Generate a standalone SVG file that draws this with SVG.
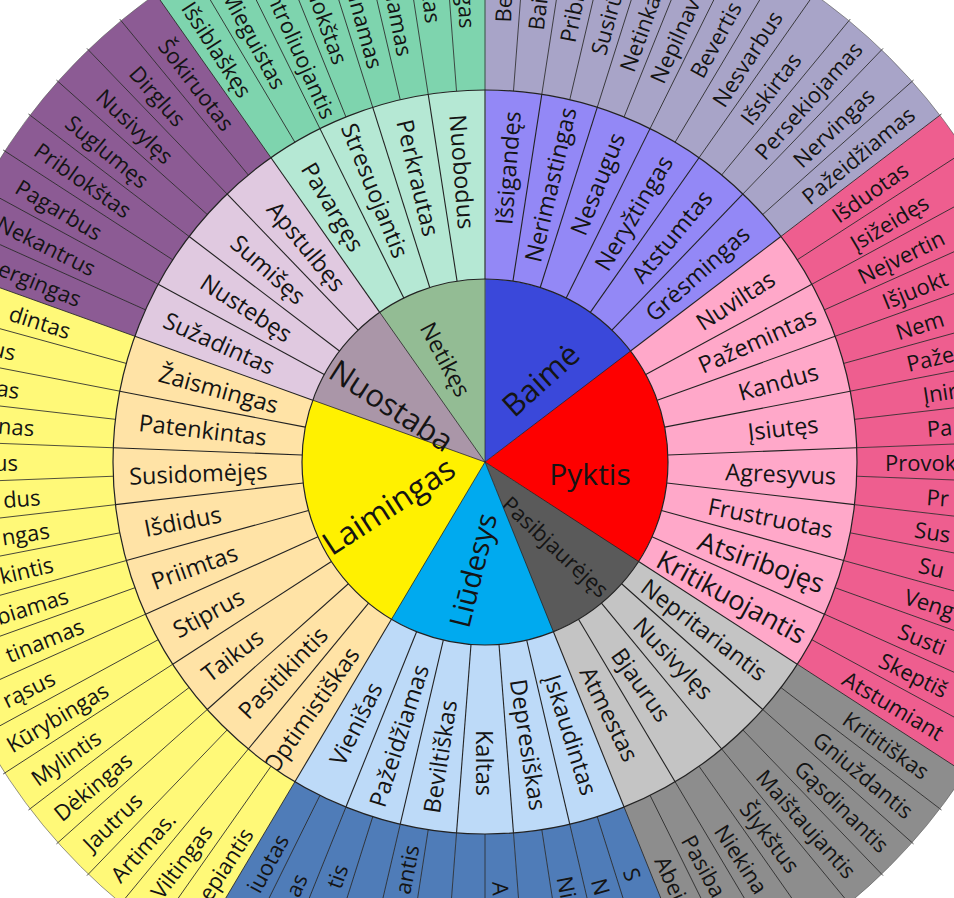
<svg xmlns="http://www.w3.org/2000/svg" width="954" height="898" viewBox="0 0 954 898">
<style>
.t{font-family:"Open Sans","Noto Sans","DejaVu Sans",sans-serif;fill:#141414;dominant-baseline:central}
.m{font-size:23.5px;text-anchor:middle}
.mb{font-size:27px;text-anchor:middle}
.oc{font-size:22px;text-anchor:middle}
.os{font-size:22px;text-anchor:start}
.oe{font-size:22px;text-anchor:end}
.ci{text-anchor:middle}
.b1{stroke:#3A48DA}.b2{stroke:#9388F6}.b3{stroke:#A8A4C8}
.p1{stroke:#FE0000}.p2{stroke:#FFA8C9}.p3{stroke:#EE5E8F}
.d1{stroke:#5A5A5A}.d2{stroke:#C4C4C4}.d3{stroke:#8D8D8D}
.l1{stroke:#00AAEF}.l2{stroke:#BDDAF8}.l3{stroke:#4F7CB8}
.h1{stroke:#FFF100}.h2{stroke:#FFE3A6}.h3{stroke:#FFF978}
.n1{stroke:#AA96A8}.n2{stroke:#E0C9E0}.n3{stroke:#8C5B94}
.g1{stroke:#93BC94}.g2{stroke:#B5E8D4}.g3{stroke:#7ED4AE}
</style>
<defs>
<circle id="sI" cx="485" cy="462" r="91.5" fill="none" stroke-width="183"/>
<circle id="sM" cx="485" cy="462" r="277.5" fill="none" stroke-width="189" stroke-dasharray="42.9 4000"/>
<circle id="sO" cx="485" cy="462" r="472" fill="none" stroke-width="200" stroke-dasharray="36.6 4000"/>
<line id="lc" x1="485" y1="462" x2="485" y2="279"/>
<line id="lm" x1="485" y1="279" x2="485" y2="90"/>
<line id="lo" x1="485" y1="90" x2="485" y2="-112"/>
</defs>
<rect width="954" height="898" fill="#fff"/>

<g id="c-baime"><use href="#sI" class="b1" stroke-dasharray="84.5 4000" transform="rotate(-90 485 462)"/><text class="t ci" font-size="31" transform="translate(540 379) rotate(-42)">Baimė</text></g>
<g id="c-pyktis"><use href="#sI" class="p1" stroke-dasharray="112.5 4000" transform="rotate(-37.317 485 462)"/><text class="t ci" font-size="30" transform="translate(590 473)">Pyktis</text></g>
<g id="c-pasibjaurejes"><use href="#sI" class="d1" stroke-dasharray="56.4 4000" transform="rotate(32.927 485 462)"/><text class="t ci" font-size="22" transform="translate(556 546) rotate(43)">Pasibjaurėjęs</text></g>
<g id="c-liudesys"><use href="#sI" class="l1" stroke-dasharray="84.5 4000" transform="rotate(68.049 485 462)"/><text class="t ci" font-size="29" transform="translate(472 570) rotate(-76)">Liūdesys</text></g>
<g id="c-laimingas"><use href="#sI" class="h1" stroke-dasharray="126.5 4000" transform="rotate(120.732 485 462)"/><text class="t ci" font-size="32" transform="translate(388 505) rotate(-33)">Laimingas</text></g>
<g id="c-nuostaba"><use href="#sI" class="n1" stroke-dasharray="56.4 4000" transform="rotate(199.756 485 462)"/><text class="t ci" font-size="31" transform="translate(392 405) rotate(33)">Nuostaba</text></g>
<g id="c-netikes"><use href="#sI" class="g1" stroke-dasharray="56.2 4000" transform="rotate(234.878 485 462)"/><text class="t ci" font-size="23" transform="translate(446 359) rotate(62)">Netikęs</text></g>

<g id="middle">
<g id="m0"><use href="#sM" class="b2" transform="rotate(-90 485 462)"/><text class="t m" x="485" y="167" transform="rotate(4.39 485 462) rotate(-90 485 167)">Išsigandęs</text></g>
<g id="m1"><use href="#sM" class="b2" transform="rotate(-81.22 485 462)"/><text class="t m" x="485" y="177" transform="rotate(13.17 485 462) rotate(-90 485 177)">Nerimastingas</text></g>
<g id="m2"><use href="#sM" class="b2" transform="rotate(-72.439 485 462)"/><text class="t m" x="485" y="162" transform="rotate(21.95 485 462) rotate(-90 485 162)">Nesaugus</text></g>
<g id="m3"><use href="#sM" class="b2" transform="rotate(-63.659 485 462)"/><text class="t m" x="485" y="172" transform="rotate(30.73 485 462) rotate(-90 485 172)">Neryžtingas</text></g>
<g id="m4"><use href="#sM" class="b2" transform="rotate(-54.878 485 462)"/><text class="t m" x="485" y="169" transform="rotate(39.51 485 462) rotate(-90 485 169)">Atstumtas</text></g>
<g id="m5"><use href="#sM" class="b2" transform="rotate(-46.098 485 462)"/><text class="t m" x="485" y="178" transform="rotate(48.29 485 462) rotate(-90 485 178)">Grėsmingas</text></g>
<g id="m6"><use href="#sM" class="p2" transform="rotate(-37.317 485 462)"/><text class="t m" x="485" y="164" transform="rotate(57.07 485 462) rotate(-90 485 164)">Nuviltas</text></g>
<g id="m7"><use href="#sM" class="p2" transform="rotate(-28.537 485 462)"/><text class="t m" x="485" y="164" transform="rotate(65.85 485 462) rotate(-90 485 164)">Pažemintas</text></g>
<g id="m8"><use href="#sM" class="p2" transform="rotate(-19.756 485 462)"/><text class="t m" x="485" y="158" transform="rotate(74.63 485 462) rotate(-90 485 158)">Kandus</text></g>
<g id="m9"><use href="#sM" class="p2" transform="rotate(-10.976 485 462)"/><text class="t m" x="485" y="162" transform="rotate(83.41 485 462) rotate(-90 485 162)">Įsiutęs</text></g>
<g id="m10"><use href="#sM" class="p2" transform="rotate(-2.195 485 462)"/><text class="t m" x="485" y="166" transform="rotate(92.2 485 462) rotate(-90 485 166)">Agresyvus</text></g>
<g id="m11"><use href="#sM" class="p2" transform="rotate(6.585 485 462)"/><text class="t m" x="485" y="171" transform="rotate(100.98 485 462) rotate(-90 485 171)">Frustruotas</text></g>
<g id="m12"><use href="#sM" class="p2" transform="rotate(15.366 485 462)"/><text class="t mb" x="485" y="168" transform="rotate(109.76 485 462) rotate(-90 485 168)">Atsiribojęs</text></g>
<g id="m13"><use href="#sM" class="p2" transform="rotate(24.146 485 462)"/><text class="t mb" x="485" y="181" transform="rotate(118.54 485 462) rotate(-90 485 181)">Kritikuojantis</text></g>
<g id="m14"><use href="#sM" class="d2" transform="rotate(32.927 485 462)"/><text class="t m" x="485" y="186" transform="rotate(127.32 485 462) rotate(-90 485 186)">Nepritariantis</text></g>
<g id="m15"><use href="#sM" class="d2" transform="rotate(41.707 485 462)"/><text class="t m" x="485" y="190" transform="rotate(136.1 485 462) rotate(-90 485 190)">Nusivylęs</text></g>
<g id="m16"><use href="#sM" class="d2" transform="rotate(50.488 485 462)"/><text class="t m" x="485" y="190" transform="rotate(144.88 485 462) rotate(-90 485 190)">Bjaurus</text></g>
<g id="m17"><use href="#sM" class="d2" transform="rotate(59.268 485 462)"/><text class="t m" x="485" y="181" transform="rotate(153.66 485 462) rotate(-90 485 181)">Atmestas</text></g>
<g id="m18"><use href="#sM" class="l2" transform="rotate(68.049 485 462)"/><text class="t m" x="485" y="176" transform="rotate(162.44 485 462) rotate(-90 485 176)">Įskaudintas</text></g>
<g id="m19"><use href="#sM" class="l2" transform="rotate(76.829 485 462)"/><text class="t m" x="485" y="176" transform="rotate(171.22 485 462) rotate(-90 485 176)">Depresiškas</text></g>
<g id="m20"><use href="#sM" class="l2" transform="rotate(85.61 485 462)"/><text class="t m" x="485" y="161" transform="rotate(180 485 462) rotate(-90 485 161)">Kaltas</text></g>
<g id="m21"><use href="#sM" class="l2" transform="rotate(94.39 485 462)"/><text class="t m" x="485" y="164" transform="rotate(188.78 485 462) rotate(90 485 164)">Beviltiškas</text></g>
<g id="m22"><use href="#sM" class="l2" transform="rotate(103.171 485 462)"/><text class="t m" x="485" y="175" transform="rotate(197.56 485 462) rotate(90 485 175)">Pažeidžiamas</text></g>
<g id="m23"><use href="#sM" class="l2" transform="rotate(111.951 485 462)"/><text class="t m" x="485" y="170" transform="rotate(206.34 485 462) rotate(90 485 170)">Vienišas</text></g>
<g id="m24"><use href="#sM" class="h2" transform="rotate(120.732 485 462)"/><text class="t m" x="485" y="159" transform="rotate(215.12 485 462) rotate(90 485 159)">Optimistiškas</text></g>
<g id="m25"><use href="#sM" class="h2" transform="rotate(129.512 485 462)"/><text class="t m" x="485" y="170" transform="rotate(223.9 485 462) rotate(90 485 170)">Pasitikintis</text></g>
<g id="m26"><use href="#sM" class="h2" transform="rotate(138.293 485 462)"/><text class="t m" x="485" y="144" transform="rotate(232.68 485 462) rotate(90 485 144)">Taikus</text></g>
<g id="m27"><use href="#sM" class="h2" transform="rotate(147.073 485 462)"/><text class="t m" x="485" y="147" transform="rotate(241.46 485 462) rotate(90 485 147)">Stiprus</text></g>
<g id="m28"><use href="#sM" class="h2" transform="rotate(155.854 485 462)"/><text class="t m" x="485" y="153" transform="rotate(250.24 485 462) rotate(90 485 153)">Priimtas</text></g>
<g id="m29"><use href="#sM" class="h2" transform="rotate(164.634 485 462)"/><text class="t m" x="485" y="154" transform="rotate(259.02 485 462) rotate(90 485 154)">Išdidus</text></g>
<g id="m30"><use href="#sM" class="h2" transform="rotate(173.415 485 462)"/><text class="t m" x="485" y="175" transform="rotate(267.8 485 462) rotate(90 485 175)">Susidomėjęs</text></g>
<g id="m31"><use href="#sM" class="h2" transform="rotate(182.195 485 462)"/><text class="t m" x="485" y="178" transform="rotate(276.59 485 462) rotate(90 485 178)">Patenkintas</text></g>
<g id="m32"><use href="#sM" class="h2" transform="rotate(190.976 485 462)"/><text class="t m" x="485" y="186" transform="rotate(285.37 485 462) rotate(90 485 186)">Žaismingas</text></g>
<g id="m33"><use href="#sM" class="n2" transform="rotate(199.756 485 462)"/><text class="t m" x="485" y="171" transform="rotate(294.15 485 462) rotate(90 485 171)">Sužadintas</text></g>
<g id="m34"><use href="#sM" class="n2" transform="rotate(208.537 485 462)"/><text class="t m" x="485" y="178" transform="rotate(302.93 485 462) rotate(90 485 178)">Nustebęs</text></g>
<g id="m35"><use href="#sM" class="n2" transform="rotate(217.317 485 462)"/><text class="t m" x="485" y="172" transform="rotate(311.71 485 462) rotate(90 485 172)">Sumišęs</text></g>
<g id="m36"><use href="#sM" class="n2" transform="rotate(226.098 485 462)"/><text class="t m" x="485" y="182" transform="rotate(320.49 485 462) rotate(90 485 182)">Apstulbęs</text></g>
<g id="m37"><use href="#sM" class="g2" transform="rotate(234.878 485 462)"/><text class="t m" x="485" y="165" transform="rotate(329.27 485 462) rotate(90 485 165)">Pavargęs</text></g>
<g id="m38"><use href="#sM" class="g2" transform="rotate(243.659 485 462)"/><text class="t m" x="485" y="169" transform="rotate(338.05 485 462) rotate(90 485 169)">Stresuojantis</text></g>
<g id="m39"><use href="#sM" class="g2" transform="rotate(252.439 485 462)"/><text class="t m" x="485" y="170" transform="rotate(346.83 485 462) rotate(90 485 170)">Perkrautas</text></g>
<g id="m40"><use href="#sM" class="g2" stroke-dasharray="42.5 4000" transform="rotate(261.22 485 462)"/><text class="t m" x="485" y="171" transform="rotate(355.61 485 462) rotate(90 485 171)">Nuobodus</text></g>
</g>

<g id="outer">
<g id="o0"><use href="#sO" class="b3" transform="rotate(-90 485 462)"/><text class="t os" x="485" y="22" transform="rotate(2.2 485 462) rotate(-90 485 22)">Be</text></g>
<g id="o1"><use href="#sO" class="b3" transform="rotate(-85.61 485 462)"/><text class="t os" x="485" y="27" transform="rotate(6.59 485 462) rotate(-90 485 27)">Bai</text></g>
<g id="o2"><use href="#sO" class="b3" transform="rotate(-81.22 485 462)"/><text class="t os" x="485" y="34" transform="rotate(10.98 485 462) rotate(-90 485 34)">Pribl</text></g>
<g id="o3"><use href="#sO" class="b3" transform="rotate(-76.829 485 462)"/><text class="t os" x="485" y="39" transform="rotate(15.37 485 462) rotate(-90 485 39)">Susirū</text></g>
<g id="o4"><use href="#sO" class="b3" transform="rotate(-72.439 485 462)"/><text class="t os" x="485" y="46" transform="rotate(19.76 485 462) rotate(-90 485 46)">Netinka</text></g>
<g id="o5"><use href="#sO" class="b3" transform="rotate(-68.049 485 462)"/><text class="t os" x="485" y="45" transform="rotate(24.15 485 462) rotate(-90 485 45)">Nepilnav</text></g>
<g id="o6"><use href="#sO" class="b3" transform="rotate(-63.659 485 462)"/><text class="t oc" x="485" y="-19" transform="rotate(28.54 485 462) rotate(-90 485 -19)">Bevertis</text></g>
<g id="o7"><use href="#sO" class="b3" transform="rotate(-59.268 485 462)"/><text class="t oc" x="485" y="-19" transform="rotate(32.93 485 462) rotate(-90 485 -19)">Nesvarbus</text></g>
<g id="o8"><use href="#sO" class="b3" transform="rotate(-54.878 485 462)"/><text class="t oc" x="485" y="-8" transform="rotate(37.32 485 462) rotate(-90 485 -8)">Išskirtas</text></g>
<g id="o9"><use href="#sO" class="b3" transform="rotate(-50.488 485 462)"/><text class="t oc" x="485" y="-23" transform="rotate(41.71 485 462) rotate(-90 485 -23)">Persekiojamas</text></g>
<g id="o10"><use href="#sO" class="b3" transform="rotate(-46.098 485 462)"/><text class="t oc" x="485" y="-21" transform="rotate(46.1 485 462) rotate(-90 485 -21)">Nervingas</text></g>
<g id="o11"><use href="#sO" class="b3" transform="rotate(-41.707 485 462)"/><text class="t oc" x="485" y="-21" transform="rotate(50.49 485 462) rotate(-90 485 -21)">Pažeidžiamas</text></g>
<g id="o12"><use href="#sO" class="p3" transform="rotate(-37.317 485 462)"/><text class="t oc" x="485" y="-8" transform="rotate(54.88 485 462) rotate(-90 485 -8)">Išduotas</text></g>
<g id="o13"><use href="#sO" class="p3" transform="rotate(-32.927 485 462)"/><text class="t oc" x="485" y="-8" transform="rotate(59.27 485 462) rotate(-90 485 -8)">Įsižeidęs</text></g>
<g id="o14"><use href="#sO" class="p3" transform="rotate(-28.537 485 462)"/><text class="t os" x="485" y="45" transform="rotate(63.66 485 462) rotate(-90 485 45)">Neįvertin</text></g>
<g id="o15"><use href="#sO" class="p3" transform="rotate(-24.146 485 462)"/><text class="t os" x="485" y="33" transform="rotate(68.05 485 462) rotate(-90 485 33)">Išjuokt</text></g>
<g id="o16"><use href="#sO" class="p3" transform="rotate(-19.756 485 462)"/><text class="t os" x="485" y="31" transform="rotate(72.44 485 462) rotate(-90 485 31)">Nem</text></g>
<g id="o17"><use href="#sO" class="p3" transform="rotate(-15.366 485 462)"/><text class="t os" x="485" y="29" transform="rotate(76.83 485 462) rotate(-90 485 29)">Paže</text></g>
<g id="o18"><use href="#sO" class="p3" transform="rotate(-10.976 485 462)"/><text class="t os" x="485" y="19" transform="rotate(81.22 485 462) rotate(-90 485 19)">Įnir</text></g>
<g id="o19"><use href="#sO" class="p3" transform="rotate(-6.585 485 462)"/><text class="t os" x="485" y="19" transform="rotate(85.61 485 462) rotate(-90 485 19)">Pa</text></g>
<g id="o20"><use href="#sO" class="p3" transform="rotate(-2.195 485 462)"/><text class="t os" x="485" y="62" transform="rotate(90 485 462) rotate(-90 485 62)">Provok</text></g>
<g id="o21"><use href="#sO" class="p3" transform="rotate(2.195 485 462)"/><text class="t os" x="485" y="19" transform="rotate(94.39 485 462) rotate(-90 485 19)">Pr</text></g>
<g id="o22"><use href="#sO" class="p3" transform="rotate(6.585 485 462)"/><text class="t os" x="485" y="27" transform="rotate(98.78 485 462) rotate(-90 485 27)">Sus</text></g>
<g id="o23"><use href="#sO" class="p3" transform="rotate(10.976 485 462)"/><text class="t os" x="485" y="16" transform="rotate(103.17 485 462) rotate(-90 485 16)">Su</text></g>
<g id="o24"><use href="#sO" class="p3" transform="rotate(15.366 485 462)"/><text class="t os" x="485" y="21" transform="rotate(107.56 485 462) rotate(-90 485 21)">Veng</text></g>
<g id="o25"><use href="#sO" class="p3" transform="rotate(19.756 485 462)"/><text class="t os" x="485" y="15" transform="rotate(111.95 485 462) rotate(-90 485 15)">Susti</text></g>
<g id="o26"><use href="#sO" class="p3" transform="rotate(24.146 485 462)"/><text class="t os" x="485" y="20" transform="rotate(116.34 485 462) rotate(-90 485 20)">Skeptiš</text></g>
<g id="o27"><use href="#sO" class="p3" transform="rotate(28.537 485 462)"/><text class="t os" x="485" y="43" transform="rotate(120.73 485 462) rotate(-90 485 43)">Atstumiant</text></g>
<g id="o28"><use href="#sO" class="d3" transform="rotate(32.927 485 462)"/><text class="t oc" x="485" y="-29" transform="rotate(125.12 485 462) rotate(-90 485 -29)">Krititiškas</text></g>
<g id="o29"><use href="#sO" class="d3" transform="rotate(37.317 485 462)"/><text class="t oc" x="485" y="-29" transform="rotate(129.51 485 462) rotate(-90 485 -29)">Gniuždantis</text></g>
<g id="o30"><use href="#sO" class="d3" transform="rotate(41.707 485 462)"/><text class="t oc" x="485" y="-34" transform="rotate(133.9 485 462) rotate(-90 485 -34)">Gąsdinantis</text></g>
<g id="o31"><use href="#sO" class="d3" transform="rotate(46.098 485 462)"/><text class="t oc" x="485" y="-22" transform="rotate(138.29 485 462) rotate(-90 485 -22)">Maištaujantis</text></g>
<g id="o32"><use href="#sO" class="d3" transform="rotate(50.488 485 462)"/><text class="t oc" x="485" y="-9" transform="rotate(142.68 485 462) rotate(-90 485 -9)">Šlykštus</text></g>
<g id="o33"><use href="#sO" class="d3" transform="rotate(54.878 485 462)"/><text class="t os" x="485" y="28" transform="rotate(147.07 485 462) rotate(-90 485 28)">Niekina</text></g>
<g id="o34"><use href="#sO" class="d3" transform="rotate(59.268 485 462)"/><text class="t os" x="485" y="36" transform="rotate(151.46 485 462) rotate(-90 485 36)">Pasiba</text></g>
<g id="o35"><use href="#sO" class="d3" transform="rotate(63.659 485 462)"/><text class="t os" x="485" y="29" transform="rotate(155.85 485 462) rotate(-90 485 29)">Abei</text></g>
<g id="o36"><use href="#sO" class="l3" transform="rotate(68.049 485 462)"/><text class="t os" x="485" y="30" transform="rotate(160.24 485 462) rotate(-90 485 30)">S</text></g>
<g id="o37"><use href="#sO" class="l3" transform="rotate(72.439 485 462)"/><text class="t os" x="485" y="30" transform="rotate(164.63 485 462) rotate(-90 485 30)">N</text></g>
<g id="o38"><use href="#sO" class="l3" transform="rotate(76.829 485 462)"/><text class="t os" x="485" y="40" transform="rotate(169.02 485 462) rotate(-90 485 40)">Ni</text></g>
<g id="o39"><use href="#sO" class="l3" transform="rotate(81.22 485 462)"/></g>
<g id="o40"><use href="#sO" class="l3" transform="rotate(85.61 485 462)"/><text class="t os" x="485" y="42" transform="rotate(177.8 485 462) rotate(-90 485 42)">A</text></g>
<g id="o41"><use href="#sO" class="l3" transform="rotate(90 485 462)"/></g>
<g id="o42"><use href="#sO" class="l3" transform="rotate(94.39 485 462)"/></g>
<g id="o43"><use href="#sO" class="l3" transform="rotate(98.78 485 462)"/><text class="t oe" x="485" y="72" transform="rotate(190.98 485 462) rotate(90 485 72)">antis</text></g>
<g id="o44"><use href="#sO" class="l3" transform="rotate(103.171 485 462)"/></g>
<g id="o45"><use href="#sO" class="l3" transform="rotate(107.561 485 462)"/><text class="t oe" x="485" y="34" transform="rotate(199.76 485 462) rotate(90 485 34)">tis</text></g>
<g id="o46"><use href="#sO" class="l3" transform="rotate(111.951 485 462)"/><text class="t oe" x="485" y="10" transform="rotate(204.15 485 462) rotate(90 485 10)">as</text></g>
<g id="o47"><use href="#sO" class="l3" transform="rotate(116.341 485 462)"/><text class="t oe" x="485" y="37" transform="rotate(208.54 485 462) rotate(90 485 37)">iuotas</text></g>
<g id="o48"><use href="#sO" class="h3" transform="rotate(120.732 485 462)"/><text class="t oe" x="485" y="24" transform="rotate(212.93 485 462) rotate(90 485 24)">epiantis</text></g>
<g id="o49"><use href="#sO" class="h3" transform="rotate(125.122 485 462)"/><text class="t oe" x="485" y="3" transform="rotate(217.32 485 462) rotate(90 485 3)">Viltingas</text></g>
<g id="o50"><use href="#sO" class="h3" transform="rotate(129.512 485 462)"/><text class="t oc" x="485" y="-53" transform="rotate(221.71 485 462) rotate(90 485 -53)">Artimas.</text></g>
<g id="o51"><use href="#sO" class="h3" transform="rotate(133.902 485 462)"/><text class="t oc" x="485" y="-56" transform="rotate(226.1 485 462) rotate(90 485 -56)">Jautrus</text></g>
<g id="o52"><use href="#sO" class="h3" transform="rotate(138.293 485 462)"/><text class="t oc" x="485" y="-47" transform="rotate(230.49 485 462) rotate(90 485 -47)">Dėkingas</text></g>
<g id="o53"><use href="#sO" class="h3" transform="rotate(142.683 485 462)"/><text class="t oc" x="485" y="-51" transform="rotate(234.88 485 462) rotate(90 485 -51)">Mylintis</text></g>
<g id="o54"><use href="#sO" class="h3" transform="rotate(147.073 485 462)"/><text class="t oc" x="485" y="-36" transform="rotate(239.27 485 462) rotate(90 485 -36)">Kūrybingas</text></g>
<g id="o55"><use href="#sO" class="h3" transform="rotate(151.463 485 462)"/><text class="t oe" x="485" y="-20" transform="rotate(243.66 485 462) rotate(90 485 -20)">rąsus</text></g>
<g id="o56"><use href="#sO" class="h3" transform="rotate(155.854 485 462)"/><text class="t oe" x="485" y="28" transform="rotate(248.05 485 462) rotate(90 485 28)">tinamas</text></g>
<g id="o57"><use href="#sO" class="h3" transform="rotate(160.244 485 462)"/><text class="t oe" x="485" y="24" transform="rotate(252.44 485 462) rotate(90 485 24)">biamas</text></g>
<g id="o58"><use href="#sO" class="h3" transform="rotate(164.634 485 462)"/><text class="t oe" x="485" y="18" transform="rotate(256.83 485 462) rotate(90 485 18)">kintis</text></g>
<g id="o59"><use href="#sO" class="h3" transform="rotate(169.024 485 462)"/><text class="t oe" x="485" y="21" transform="rotate(261.22 485 462) rotate(90 485 21)">ngas</text></g>
<g id="o60"><use href="#sO" class="h3" transform="rotate(173.415 485 462)"/><text class="t oe" x="485" y="16" transform="rotate(265.61 485 462) rotate(90 485 16)">dus</text></g>
<g id="o61"><use href="#sO" class="h3" transform="rotate(177.805 485 462)"/><text class="t oe" x="485" y="-5" transform="rotate(270 485 462) rotate(90 485 -5)">us</text></g>
<g id="o62"><use href="#sO" class="h3" transform="rotate(182.195 485 462)"/><text class="t oe" x="485" y="10" transform="rotate(274.39 485 462) rotate(90 485 10)">nas</text></g>
<g id="o63"><use href="#sO" class="h3" transform="rotate(186.585 485 462)"/><text class="t oe" x="485" y="-9" transform="rotate(278.78 485 462) rotate(90 485 -9)">as</text></g>
<g id="o64"><use href="#sO" class="h3" transform="rotate(190.976 485 462)"/><text class="t oe" x="485" y="-20" transform="rotate(283.17 485 462) rotate(90 485 -20)">us</text></g>
<g id="o65"><use href="#sO" class="h3" transform="rotate(195.366 485 462)"/><text class="t oe" x="485" y="27" transform="rotate(287.56 485 462) rotate(90 485 27)">dintas</text></g>
<g id="o66"><use href="#sO" class="n3" transform="rotate(199.756 485 462)"/><text class="t oe" x="485" y="26" transform="rotate(291.95 485 462) rotate(90 485 26)">ergingas</text></g>
<g id="o67"><use href="#sO" class="n3" transform="rotate(204.146 485 462)"/><text class="t oc" x="485" y="-27" transform="rotate(296.34 485 462) rotate(90 485 -27)">Nekantrus</text></g>
<g id="o68"><use href="#sO" class="n3" transform="rotate(208.537 485 462)"/><text class="t oc" x="485" y="-33" transform="rotate(300.73 485 462) rotate(90 485 -33)">Pagarbus</text></g>
<g id="o69"><use href="#sO" class="n3" transform="rotate(212.927 485 462)"/><text class="t oc" x="485" y="-29" transform="rotate(305.12 485 462) rotate(90 485 -29)">Priblokštas</text></g>
<g id="o70"><use href="#sO" class="n3" transform="rotate(217.317 485 462)"/><text class="t oc" x="485" y="-27" transform="rotate(309.51 485 462) rotate(90 485 -27)">Suglumęs</text></g>
<g id="o71"><use href="#sO" class="n3" transform="rotate(221.707 485 462)"/><text class="t oc" x="485" y="-23" transform="rotate(313.9 485 462) rotate(90 485 -23)">Nusivylęs</text></g>
<g id="o72"><use href="#sO" class="n3" transform="rotate(226.098 485 462)"/><text class="t oc" x="485" y="-29" transform="rotate(318.29 485 462) rotate(90 485 -29)">Dirglus</text></g>
<g id="o73"><use href="#sO" class="n3" transform="rotate(230.488 485 462)"/><text class="t oc" x="485" y="-13" transform="rotate(322.68 485 462) rotate(90 485 -13)">Šokiruotas</text></g>
<g id="o74"><use href="#sO" class="g3" transform="rotate(234.878 485 462)"/><text class="t oc" x="485" y="-30" transform="rotate(327.07 485 462) rotate(90 485 -30)">Išsiblaškęs</text></g>
<g id="o75"><use href="#sO" class="g3" transform="rotate(239.268 485 462)"/><text class="t oe" x="485" y="35" transform="rotate(331.46 485 462) rotate(90 485 35)">Mieguistas</text></g>
<g id="o76"><use href="#sO" class="g3" transform="rotate(243.659 485 462)"/><text class="t oe" x="485" y="84" transform="rotate(335.85 485 462) rotate(90 485 84)">ontroliuojantis</text></g>
<g id="o77"><use href="#sO" class="g3" transform="rotate(248.049 485 462)"/><text class="t oe" x="485" y="38" transform="rotate(340.24 485 462) rotate(90 485 38)">lokštas</text></g>
<g id="o78"><use href="#sO" class="g3" transform="rotate(252.439 485 462)"/><text class="t oe" x="485" y="53" transform="rotate(344.63 485 462) rotate(90 485 53)">inamas</text></g>
<g id="o79"><use href="#sO" class="g3" transform="rotate(256.829 485 462)"/><text class="t oe" x="485" y="48" transform="rotate(349.02 485 462) rotate(90 485 48)">iamas</text></g>
<g id="o80"><use href="#sO" class="g3" transform="rotate(261.22 485 462)"/><text class="t oe" x="485" y="20" transform="rotate(353.41 485 462) rotate(90 485 20)">kas</text></g>
<g id="o81"><use href="#sO" class="g3" stroke-dasharray="36.2 4000" transform="rotate(265.61 485 462)"/><text class="t oe" x="485" y="28" transform="rotate(357.8 485 462) rotate(90 485 28)">gas</text></g>
</g>

<g id="dividers" stroke="#222" fill="none">
<g stroke-width="0.7">
<use href="#lc"/><use href="#lc" transform="rotate(52.683 485 462)"/><use href="#lc" transform="rotate(122.927 485 462)"/><use href="#lc" transform="rotate(158.049 485 462)"/><use href="#lc" transform="rotate(210.732 485 462)"/><use href="#lc" transform="rotate(289.756 485 462)"/><use href="#lc" transform="rotate(324.878 485 462)"/>
</g>
<g stroke-width="1.1">
<use href="#lm"/><use href="#lm" transform="rotate(8.78 485 462)"/><use href="#lm" transform="rotate(17.561 485 462)"/><use href="#lm" transform="rotate(26.341 485 462)"/><use href="#lm" transform="rotate(35.122 485 462)"/><use href="#lm" transform="rotate(43.902 485 462)"/><use href="#lm" transform="rotate(52.683 485 462)"/><use href="#lm" transform="rotate(61.463 485 462)"/><use href="#lm" transform="rotate(70.244 485 462)"/><use href="#lm" transform="rotate(79.024 485 462)"/><use href="#lm" transform="rotate(87.805 485 462)"/><use href="#lm" transform="rotate(96.585 485 462)"/><use href="#lm" transform="rotate(105.366 485 462)"/><use href="#lm" transform="rotate(114.146 485 462)"/><use href="#lm" transform="rotate(122.927 485 462)"/><use href="#lm" transform="rotate(131.707 485 462)"/><use href="#lm" transform="rotate(140.488 485 462)"/><use href="#lm" transform="rotate(149.268 485 462)"/><use href="#lm" transform="rotate(158.049 485 462)"/><use href="#lm" transform="rotate(166.829 485 462)"/><use href="#lm" transform="rotate(175.61 485 462)"/><use href="#lm" transform="rotate(184.39 485 462)"/><use href="#lm" transform="rotate(193.171 485 462)"/><use href="#lm" transform="rotate(201.951 485 462)"/><use href="#lm" transform="rotate(210.732 485 462)"/><use href="#lm" transform="rotate(219.512 485 462)"/><use href="#lm" transform="rotate(228.293 485 462)"/><use href="#lm" transform="rotate(237.073 485 462)"/><use href="#lm" transform="rotate(245.854 485 462)"/><use href="#lm" transform="rotate(254.634 485 462)"/><use href="#lm" transform="rotate(263.415 485 462)"/><use href="#lm" transform="rotate(272.195 485 462)"/><use href="#lm" transform="rotate(280.976 485 462)"/><use href="#lm" transform="rotate(289.756 485 462)"/><use href="#lm" transform="rotate(298.537 485 462)"/><use href="#lm" transform="rotate(307.317 485 462)"/><use href="#lm" transform="rotate(316.098 485 462)"/><use href="#lm" transform="rotate(324.878 485 462)"/><use href="#lm" transform="rotate(333.659 485 462)"/><use href="#lm" transform="rotate(342.439 485 462)"/><use href="#lm" transform="rotate(351.22 485 462)"/>
</g>
<g stroke-width="0.8" stroke="#2a2a2a">
<use href="#lo"/><use href="#lo" transform="rotate(4.39 485 462)"/><use href="#lo" transform="rotate(8.78 485 462)"/><use href="#lo" transform="rotate(13.171 485 462)"/><use href="#lo" transform="rotate(17.561 485 462)"/><use href="#lo" transform="rotate(21.951 485 462)"/><use href="#lo" transform="rotate(26.341 485 462)"/><use href="#lo" transform="rotate(30.732 485 462)"/><use href="#lo" transform="rotate(35.122 485 462)"/><use href="#lo" transform="rotate(39.512 485 462)"/><use href="#lo" transform="rotate(43.902 485 462)"/><use href="#lo" transform="rotate(48.293 485 462)"/><use href="#lo" transform="rotate(52.683 485 462)"/><use href="#lo" transform="rotate(57.073 485 462)"/><use href="#lo" transform="rotate(61.463 485 462)"/><use href="#lo" transform="rotate(65.854 485 462)"/><use href="#lo" transform="rotate(70.244 485 462)"/><use href="#lo" transform="rotate(74.634 485 462)"/><use href="#lo" transform="rotate(79.024 485 462)"/><use href="#lo" transform="rotate(83.415 485 462)"/><use href="#lo" transform="rotate(87.805 485 462)"/><use href="#lo" transform="rotate(92.195 485 462)"/><use href="#lo" transform="rotate(96.585 485 462)"/><use href="#lo" transform="rotate(100.976 485 462)"/><use href="#lo" transform="rotate(105.366 485 462)"/><use href="#lo" transform="rotate(109.756 485 462)"/><use href="#lo" transform="rotate(114.146 485 462)"/><use href="#lo" transform="rotate(118.537 485 462)"/><use href="#lo" transform="rotate(122.927 485 462)"/><use href="#lo" transform="rotate(127.317 485 462)"/><use href="#lo" transform="rotate(131.707 485 462)"/><use href="#lo" transform="rotate(136.098 485 462)"/><use href="#lo" transform="rotate(140.488 485 462)"/><use href="#lo" transform="rotate(144.878 485 462)"/><use href="#lo" transform="rotate(149.268 485 462)"/><use href="#lo" transform="rotate(153.659 485 462)"/><use href="#lo" transform="rotate(158.049 485 462)"/><use href="#lo" transform="rotate(162.439 485 462)"/><use href="#lo" transform="rotate(166.829 485 462)"/><use href="#lo" transform="rotate(171.22 485 462)"/><use href="#lo" transform="rotate(175.61 485 462)"/><use href="#lo" transform="rotate(180 485 462)"/><use href="#lo" transform="rotate(184.39 485 462)"/><use href="#lo" transform="rotate(188.78 485 462)"/><use href="#lo" transform="rotate(193.171 485 462)"/><use href="#lo" transform="rotate(197.561 485 462)"/><use href="#lo" transform="rotate(201.951 485 462)"/><use href="#lo" transform="rotate(206.341 485 462)"/><use href="#lo" transform="rotate(210.732 485 462)"/><use href="#lo" transform="rotate(215.122 485 462)"/><use href="#lo" transform="rotate(219.512 485 462)"/><use href="#lo" transform="rotate(223.902 485 462)"/><use href="#lo" transform="rotate(228.293 485 462)"/><use href="#lo" transform="rotate(232.683 485 462)"/><use href="#lo" transform="rotate(237.073 485 462)"/><use href="#lo" transform="rotate(241.463 485 462)"/><use href="#lo" transform="rotate(245.854 485 462)"/><use href="#lo" transform="rotate(250.244 485 462)"/><use href="#lo" transform="rotate(254.634 485 462)"/><use href="#lo" transform="rotate(259.024 485 462)"/><use href="#lo" transform="rotate(263.415 485 462)"/><use href="#lo" transform="rotate(267.805 485 462)"/><use href="#lo" transform="rotate(272.195 485 462)"/><use href="#lo" transform="rotate(276.585 485 462)"/><use href="#lo" transform="rotate(280.976 485 462)"/><use href="#lo" transform="rotate(285.366 485 462)"/><use href="#lo" transform="rotate(289.756 485 462)"/><use href="#lo" transform="rotate(294.146 485 462)"/><use href="#lo" transform="rotate(298.537 485 462)"/><use href="#lo" transform="rotate(302.927 485 462)"/><use href="#lo" transform="rotate(307.317 485 462)"/><use href="#lo" transform="rotate(311.707 485 462)"/><use href="#lo" transform="rotate(316.098 485 462)"/><use href="#lo" transform="rotate(320.488 485 462)"/><use href="#lo" transform="rotate(324.878 485 462)"/><use href="#lo" transform="rotate(329.268 485 462)"/><use href="#lo" transform="rotate(333.659 485 462)"/><use href="#lo" transform="rotate(338.049 485 462)"/><use href="#lo" transform="rotate(342.439 485 462)"/><use href="#lo" transform="rotate(346.829 485 462)"/><use href="#lo" transform="rotate(351.22 485 462)"/><use href="#lo" transform="rotate(355.61 485 462)"/>
</g>
<circle cx="485" cy="462" r="183" stroke-width="1.2"/>
<circle cx="485" cy="462" r="372" stroke-width="1.2"/>
<circle cx="485" cy="462" r="572" stroke="#666" stroke-width="0.7"/>
</g>
</svg>
